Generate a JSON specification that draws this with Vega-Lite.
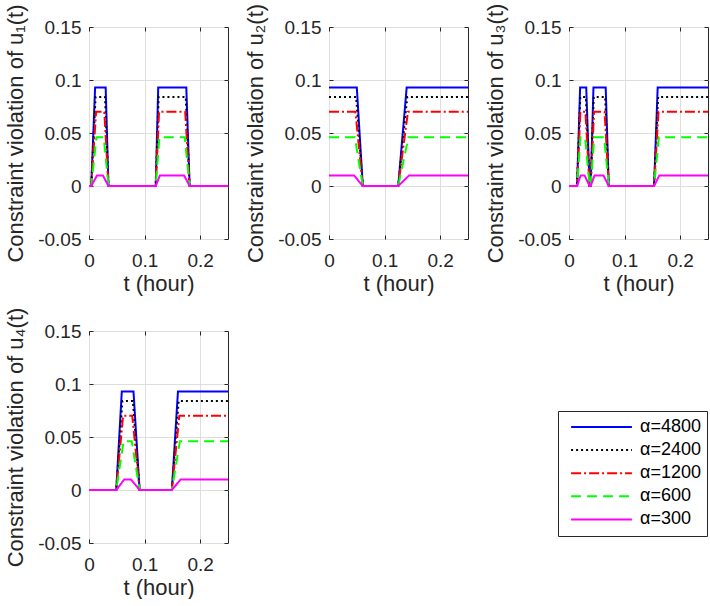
{
  "$schema": "https://vega.github.io/schema/vega-lite/v6.json",
  "background": "white",
  "padding": {"left": 4, "top": 2, "right": 0, "bottom": 0},
  "config": {
    "font": "Liberation Sans",
    "view": {"stroke": "#262626", "strokeWidth": 1},
    "axis": {"domain": false, "grid": true, "gridColor": "#dedede", "gridWidth": 1, "ticks": true, "tickColor": "#262626", "tickSize": -4, "labelFont": "Liberation Sans", "labelFontSize": 19, "labelColor": "#262626", "labelFlush": false, "labelOverlap": false, "titleFont": "Liberation Sans", "titleFontSize": 22, "titleFontWeight": "normal", "titleColor": "#262626"},
    "axisX": {"labelPadding": 16, "titlePadding": 3},
    "axisY": {"labelPadding": 12, "titlePadding": 10},
    "legend": {"strokeColor": "#262626", "fillColor": "white", "padding": 6, "symbolOffset": 6, "symbolType": "stroke", "symbolSize": 3700, "symbolStrokeWidth": 2, "clipHeight": 20, "labelFont": "Liberation Sans", "labelFontSize": 18, "labelColor": "black", "labelOffset": 7, "rowPadding": 3.1}
  },
  "data": {"values": [
    {"p":1,"a":"α=4800","t":0,"v":0},{"p":1,"a":"α=4800","t":0.004,"v":0},{"p":1,"a":"α=4800","t":0.011,"v":0.093},{"p":1,"a":"α=4800","t":0.030,"v":0.093},{"p":1,"a":"α=4800","t":0.035,"v":0},{"p":1,"a":"α=4800","t":0.120,"v":0},{"p":1,"a":"α=4800","t":0.1245,"v":0.093},{"p":1,"a":"α=4800","t":0.175,"v":0.093},{"p":1,"a":"α=4800","t":0.181,"v":0},{"p":1,"a":"α=4800","t":0.25,"v":0},
    {"p":1,"a":"α=2400","t":0,"v":0},{"p":1,"a":"α=2400","t":0.004,"v":0},{"p":1,"a":"α=2400","t":0.0119,"v":0.084},{"p":1,"a":"α=2400","t":0.0288,"v":0.084},{"p":1,"a":"α=2400","t":0.035,"v":0},{"p":1,"a":"α=2400","t":0.120,"v":0},{"p":1,"a":"α=2400","t":0.1253,"v":0.084},{"p":1,"a":"α=2400","t":0.174,"v":0.084},{"p":1,"a":"α=2400","t":0.181,"v":0},{"p":1,"a":"α=2400","t":0.25,"v":0},
    {"p":1,"a":"α=1200","t":0,"v":0},{"p":1,"a":"α=1200","t":0.004,"v":0},{"p":1,"a":"α=1200","t":0.0128,"v":0.07},{"p":1,"a":"α=1200","t":0.0275,"v":0.07},{"p":1,"a":"α=1200","t":0.035,"v":0},{"p":1,"a":"α=1200","t":0.120,"v":0},{"p":1,"a":"α=1200","t":0.126,"v":0.07},{"p":1,"a":"α=1200","t":0.173,"v":0.07},{"p":1,"a":"α=1200","t":0.181,"v":0},{"p":1,"a":"α=1200","t":0.25,"v":0},
    {"p":1,"a":"α=600","t":0,"v":0},{"p":1,"a":"α=600","t":0.004,"v":0},{"p":1,"a":"α=600","t":0.0135,"v":0.046},{"p":1,"a":"α=600","t":0.0265,"v":0.046},{"p":1,"a":"α=600","t":0.035,"v":0},{"p":1,"a":"α=600","t":0.120,"v":0},{"p":1,"a":"α=600","t":0.1266,"v":0.046},{"p":1,"a":"α=600","t":0.1722,"v":0.046},{"p":1,"a":"α=600","t":0.181,"v":0},{"p":1,"a":"α=600","t":0.25,"v":0},
    {"p":1,"a":"α=300","t":0,"v":0},{"p":1,"a":"α=300","t":0.004,"v":0},{"p":1,"a":"α=300","t":0.0145,"v":0.01},{"p":1,"a":"α=300","t":0.025,"v":0.01},{"p":1,"a":"α=300","t":0.035,"v":0},{"p":1,"a":"α=300","t":0.120,"v":0},{"p":1,"a":"α=300","t":0.1275,"v":0.01},{"p":1,"a":"α=300","t":0.171,"v":0.01},{"p":1,"a":"α=300","t":0.181,"v":0},{"p":1,"a":"α=300","t":0.25,"v":0},

    {"p":2,"a":"α=4800","t":0,"v":0.093},{"p":2,"a":"α=4800","t":0.050,"v":0.093},{"p":2,"a":"α=4800","t":0.0608,"v":0},{"p":2,"a":"α=4800","t":0.1245,"v":0},{"p":2,"a":"α=4800","t":0.1397,"v":0.093},{"p":2,"a":"α=4800","t":0.25,"v":0.093},
    {"p":2,"a":"α=2400","t":0,"v":0.084},{"p":2,"a":"α=2400","t":0.0488,"v":0.084},{"p":2,"a":"α=2400","t":0.0608,"v":0},{"p":2,"a":"α=2400","t":0.1245,"v":0},{"p":2,"a":"α=2400","t":0.1408,"v":0.084},{"p":2,"a":"α=2400","t":0.25,"v":0.084},
    {"p":2,"a":"α=1200","t":0,"v":0.07},{"p":2,"a":"α=1200","t":0.0475,"v":0.07},{"p":2,"a":"α=1200","t":0.0608,"v":0},{"p":2,"a":"α=1200","t":0.1245,"v":0},{"p":2,"a":"α=1200","t":0.142,"v":0.07},{"p":2,"a":"α=1200","t":0.25,"v":0.07},
    {"p":2,"a":"α=600","t":0,"v":0.046},{"p":2,"a":"α=600","t":0.0465,"v":0.046},{"p":2,"a":"α=600","t":0.0608,"v":0},{"p":2,"a":"α=600","t":0.1245,"v":0},{"p":2,"a":"α=600","t":0.1429,"v":0.046},{"p":2,"a":"α=600","t":0.25,"v":0.046},
    {"p":2,"a":"α=300","t":0,"v":0.01},{"p":2,"a":"α=300","t":0.045,"v":0.01},{"p":2,"a":"α=300","t":0.0608,"v":0},{"p":2,"a":"α=300","t":0.1245,"v":0},{"p":2,"a":"α=300","t":0.1442,"v":0.01},{"p":2,"a":"α=300","t":0.25,"v":0.01},

    {"p":3,"a":"α=4800","t":0,"v":0},{"p":3,"a":"α=4800","t":0.0145,"v":0},{"p":3,"a":"α=4800","t":0.020,"v":0.093},{"p":3,"a":"α=4800","t":0.031,"v":0.093},{"p":3,"a":"α=4800","t":0.037,"v":0},{"p":3,"a":"α=4800","t":0.039,"v":0},{"p":3,"a":"α=4800","t":0.044,"v":0.093},{"p":3,"a":"α=4800","t":0.066,"v":0.093},{"p":3,"a":"α=4800","t":0.0715,"v":0},{"p":3,"a":"α=4800","t":0.153,"v":0},{"p":3,"a":"α=4800","t":0.1595,"v":0.093},{"p":3,"a":"α=4800","t":0.25,"v":0.093},
    {"p":3,"a":"α=2400","t":0,"v":0},{"p":3,"a":"α=2400","t":0.0145,"v":0},{"p":3,"a":"α=2400","t":0.0203,"v":0.084},{"p":3,"a":"α=2400","t":0.0303,"v":0.084},{"p":3,"a":"α=2400","t":0.037,"v":0},{"p":3,"a":"α=2400","t":0.039,"v":0},{"p":3,"a":"α=2400","t":0.0445,"v":0.084},{"p":3,"a":"α=2400","t":0.065,"v":0.084},{"p":3,"a":"α=2400","t":0.0715,"v":0},{"p":3,"a":"α=2400","t":0.153,"v":0},{"p":3,"a":"α=2400","t":0.1603,"v":0.084},{"p":3,"a":"α=2400","t":0.25,"v":0.084},
    {"p":3,"a":"α=1200","t":0,"v":0},{"p":3,"a":"α=1200","t":0.0145,"v":0},{"p":3,"a":"α=1200","t":0.0205,"v":0.07},{"p":3,"a":"α=1200","t":0.0295,"v":0.07},{"p":3,"a":"α=1200","t":0.037,"v":0},{"p":3,"a":"α=1200","t":0.039,"v":0},{"p":3,"a":"α=1200","t":0.045,"v":0.07},{"p":3,"a":"α=1200","t":0.064,"v":0.07},{"p":3,"a":"α=1200","t":0.0715,"v":0},{"p":3,"a":"α=1200","t":0.153,"v":0},{"p":3,"a":"α=1200","t":0.161,"v":0.07},{"p":3,"a":"α=1200","t":0.25,"v":0.07},
    {"p":3,"a":"α=600","t":0,"v":0},{"p":3,"a":"α=600","t":0.0145,"v":0},{"p":3,"a":"α=600","t":0.0207,"v":0.046},{"p":3,"a":"α=600","t":0.0289,"v":0.046},{"p":3,"a":"α=600","t":0.037,"v":0},{"p":3,"a":"α=600","t":0.039,"v":0},{"p":3,"a":"α=600","t":0.0454,"v":0.046},{"p":3,"a":"α=600","t":0.0632,"v":0.046},{"p":3,"a":"α=600","t":0.0715,"v":0},{"p":3,"a":"α=600","t":0.153,"v":0},{"p":3,"a":"α=600","t":0.1616,"v":0.046},{"p":3,"a":"α=600","t":0.25,"v":0.046},
    {"p":3,"a":"α=300","t":0,"v":0},{"p":3,"a":"α=300","t":0.0145,"v":0},{"p":3,"a":"α=300","t":0.021,"v":0.01},{"p":3,"a":"α=300","t":0.028,"v":0.01},{"p":3,"a":"α=300","t":0.037,"v":0},{"p":3,"a":"α=300","t":0.039,"v":0},{"p":3,"a":"α=300","t":0.046,"v":0.01},{"p":3,"a":"α=300","t":0.062,"v":0.01},{"p":3,"a":"α=300","t":0.0715,"v":0},{"p":3,"a":"α=300","t":0.153,"v":0},{"p":3,"a":"α=300","t":0.1625,"v":0.01},{"p":3,"a":"α=300","t":0.25,"v":0.01},

    {"p":4,"a":"α=4800","t":0,"v":0},{"p":4,"a":"α=4800","t":0.049,"v":0},{"p":4,"a":"α=4800","t":0.059,"v":0.093},{"p":4,"a":"α=4800","t":0.080,"v":0.093},{"p":4,"a":"α=4800","t":0.091,"v":0},{"p":4,"a":"α=4800","t":0.149,"v":0},{"p":4,"a":"α=4800","t":0.160,"v":0.093},{"p":4,"a":"α=4800","t":0.25,"v":0.093},
    {"p":4,"a":"α=2400","t":0,"v":0},{"p":4,"a":"α=2400","t":0.049,"v":0},{"p":4,"a":"α=2400","t":0.0601,"v":0.084},{"p":4,"a":"α=2400","t":0.0789,"v":0.084},{"p":4,"a":"α=2400","t":0.091,"v":0},{"p":4,"a":"α=2400","t":0.149,"v":0},{"p":4,"a":"α=2400","t":0.1613,"v":0.084},{"p":4,"a":"α=2400","t":0.25,"v":0.084},
    {"p":4,"a":"α=1200","t":0,"v":0},{"p":4,"a":"α=1200","t":0.049,"v":0},{"p":4,"a":"α=1200","t":0.0613,"v":0.07},{"p":4,"a":"α=1200","t":0.0778,"v":0.07},{"p":4,"a":"α=1200","t":0.091,"v":0},{"p":4,"a":"α=1200","t":0.149,"v":0},{"p":4,"a":"α=1200","t":0.1625,"v":0.07},{"p":4,"a":"α=1200","t":0.25,"v":0.07},
    {"p":4,"a":"α=600","t":0,"v":0},{"p":4,"a":"α=600","t":0.049,"v":0},{"p":4,"a":"α=600","t":0.0622,"v":0.046},{"p":4,"a":"α=600","t":0.0769,"v":0.046},{"p":4,"a":"α=600","t":0.091,"v":0},{"p":4,"a":"α=600","t":0.149,"v":0},{"p":4,"a":"α=600","t":0.1635,"v":0.046},{"p":4,"a":"α=600","t":0.25,"v":0.046},
    {"p":4,"a":"α=300","t":0,"v":0},{"p":4,"a":"α=300","t":0.049,"v":0},{"p":4,"a":"α=300","t":0.0635,"v":0.01},{"p":4,"a":"α=300","t":0.0755,"v":0.01},{"p":4,"a":"α=300","t":0.091,"v":0},{"p":4,"a":"α=300","t":0.149,"v":0},{"p":4,"a":"α=300","t":0.165,"v":0.01},{"p":4,"a":"α=300","t":0.25,"v":0.01}
  ]},
  "columns": 3,
  "bounds": "flush",
  "spacing": {"row": 92, "column": 101},
  "concat": [
    {
      "width": 139, "height": 212,
      "transform": [{"filter": "datum.p == 1"}],
      "layer": [
        {
          "mark": {"type": "line", "strokeWidth": 2},
          "encoding": {
            "x": {"field": "t", "type": "quantitative", "scale": {"domain": [0, 0.25], "nice": false, "zero": false}, "axis": {"values": [0, 0.1, 0.2], "title": "t (hour)", "labelExpr": "datum.value + ''"}},
            "y": {"field": "v", "type": "quantitative", "scale": {"domain": [-0.05, 0.15], "nice": false}, "axis": {"values": [-0.05, 0, 0.05, 0.1, 0.15], "title": "Constraint violation of u₁(t)", "labelExpr": "datum.value + ''"}},
            "color": {"field": "a", "type": "nominal", "scale": {"domain": ["α=4800", "α=2400", "α=1200", "α=600", "α=300"], "range": ["#0000ff", "#000000", "#ff0000", "#00ff00", "#ff00ff"]}, "legend": {"title": null, "orient": "none", "legendX": 469, "legendY": 384}},
            "strokeDash": {"field": "a", "type": "nominal", "scale": {"domain": ["α=4800", "α=2400", "α=1200", "α=600", "α=300"], "range": [[1, 0], [2, 3], [10, 3, 2, 3], [10, 6], [1, 0]]}, "legend": {"title": null, "orient": "none", "legendX": 469, "legendY": 384}}
          }
        },
        {
          "mark": {"type": "line", "opacity": 0},
          "encoding": {
            "x": {"field": "t", "type": "quantitative", "axis": {"orient": "top", "values": [0, 0.1, 0.2], "labels": false, "grid": false, "title": null}},
            "y": {"field": "v", "type": "quantitative", "axis": {"orient": "right", "values": [-0.05, 0, 0.05, 0.1, 0.15], "labels": false, "grid": false, "title": null}}
          }
        }
      ],
      "resolve": {"axis": {"x": "independent", "y": "independent"}}
    },
    {
      "width": 139, "height": 212,
      "transform": [{"filter": "datum.p == 2"}],
      "layer": [
        {
          "mark": {"type": "line", "strokeWidth": 2},
          "encoding": {
            "x": {"field": "t", "type": "quantitative", "scale": {"domain": [0, 0.25], "nice": false, "zero": false}, "axis": {"values": [0, 0.1, 0.2], "title": "t (hour)", "labelExpr": "datum.value + ''"}},
            "y": {"field": "v", "type": "quantitative", "scale": {"domain": [-0.05, 0.15], "nice": false}, "axis": {"values": [-0.05, 0, 0.05, 0.1, 0.15], "title": "Constraint violation of u₂(t)", "labelExpr": "datum.value + ''"}},
            "color": {"field": "a", "type": "nominal", "scale": {"domain": ["α=4800", "α=2400", "α=1200", "α=600", "α=300"], "range": ["#0000ff", "#000000", "#ff0000", "#00ff00", "#ff00ff"]}, "legend": {"title": null, "orient": "none", "legendX": 469, "legendY": 384}},
            "strokeDash": {"field": "a", "type": "nominal", "scale": {"domain": ["α=4800", "α=2400", "α=1200", "α=600", "α=300"], "range": [[1, 0], [2, 3], [10, 3, 2, 3], [10, 6], [1, 0]]}, "legend": {"title": null, "orient": "none", "legendX": 469, "legendY": 384}}
          }
        },
        {
          "mark": {"type": "line", "opacity": 0},
          "encoding": {
            "x": {"field": "t", "type": "quantitative", "axis": {"orient": "top", "values": [0, 0.1, 0.2], "labels": false, "grid": false, "title": null}},
            "y": {"field": "v", "type": "quantitative", "axis": {"orient": "right", "values": [-0.05, 0, 0.05, 0.1, 0.15], "labels": false, "grid": false, "title": null}}
          }
        }
      ],
      "resolve": {"axis": {"x": "independent", "y": "independent"}}
    },
    {
      "width": 139, "height": 212,
      "transform": [{"filter": "datum.p == 3"}],
      "layer": [
        {
          "mark": {"type": "line", "strokeWidth": 2},
          "encoding": {
            "x": {"field": "t", "type": "quantitative", "scale": {"domain": [0, 0.25], "nice": false, "zero": false}, "axis": {"values": [0, 0.1, 0.2], "title": "t (hour)", "labelExpr": "datum.value + ''"}},
            "y": {"field": "v", "type": "quantitative", "scale": {"domain": [-0.05, 0.15], "nice": false}, "axis": {"values": [-0.05, 0, 0.05, 0.1, 0.15], "title": "Constraint violation of u₃(t)", "labelExpr": "datum.value + ''"}},
            "color": {"field": "a", "type": "nominal", "scale": {"domain": ["α=4800", "α=2400", "α=1200", "α=600", "α=300"], "range": ["#0000ff", "#000000", "#ff0000", "#00ff00", "#ff00ff"]}, "legend": {"title": null, "orient": "none", "legendX": 469, "legendY": 384}},
            "strokeDash": {"field": "a", "type": "nominal", "scale": {"domain": ["α=4800", "α=2400", "α=1200", "α=600", "α=300"], "range": [[1, 0], [2, 3], [10, 3, 2, 3], [10, 6], [1, 0]]}, "legend": {"title": null, "orient": "none", "legendX": 469, "legendY": 384}}
          }
        },
        {
          "mark": {"type": "line", "opacity": 0},
          "encoding": {
            "x": {"field": "t", "type": "quantitative", "axis": {"orient": "top", "values": [0, 0.1, 0.2], "labels": false, "grid": false, "title": null}},
            "y": {"field": "v", "type": "quantitative", "axis": {"orient": "right", "values": [-0.05, 0, 0.05, 0.1, 0.15], "labels": false, "grid": false, "title": null}}
          }
        }
      ],
      "resolve": {"axis": {"x": "independent", "y": "independent"}}
    },
    {
      "width": 139, "height": 212,
      "transform": [{"filter": "datum.p == 4"}],
      "layer": [
        {
          "mark": {"type": "line", "strokeWidth": 2},
          "encoding": {
            "x": {"field": "t", "type": "quantitative", "scale": {"domain": [0, 0.25], "nice": false, "zero": false}, "axis": {"values": [0, 0.1, 0.2], "title": "t (hour)", "labelExpr": "datum.value + ''"}},
            "y": {"field": "v", "type": "quantitative", "scale": {"domain": [-0.05, 0.15], "nice": false}, "axis": {"values": [-0.05, 0, 0.05, 0.1, 0.15], "title": "Constraint violation of u₄(t)", "labelExpr": "datum.value + ''"}},
            "color": {"field": "a", "type": "nominal", "scale": {"domain": ["α=4800", "α=2400", "α=1200", "α=600", "α=300"], "range": ["#0000ff", "#000000", "#ff0000", "#00ff00", "#ff00ff"]}, "legend": {"title": null, "orient": "none", "legendX": 469, "legendY": 384}},
            "strokeDash": {"field": "a", "type": "nominal", "scale": {"domain": ["α=4800", "α=2400", "α=1200", "α=600", "α=300"], "range": [[1, 0], [2, 3], [10, 3, 2, 3], [10, 6], [1, 0]]}, "legend": {"title": null, "orient": "none", "legendX": 469, "legendY": 384}}
          }
        },
        {
          "mark": {"type": "line", "opacity": 0},
          "encoding": {
            "x": {"field": "t", "type": "quantitative", "axis": {"orient": "top", "values": [0, 0.1, 0.2], "labels": false, "grid": false, "title": null}},
            "y": {"field": "v", "type": "quantitative", "axis": {"orient": "right", "values": [-0.05, 0, 0.05, 0.1, 0.15], "labels": false, "grid": false, "title": null}}
          }
        }
      ],
      "resolve": {"axis": {"x": "independent", "y": "independent"}}
    }
  ]
}
